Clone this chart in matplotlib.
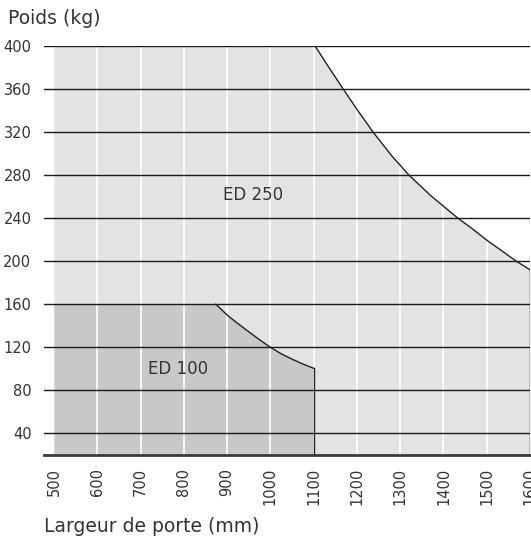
import matplotlib
matplotlib.use("Agg")
import matplotlib.pyplot as plt

plt.rcParams["font.family"] = ["DejaVu Sans"]

# ED 250 envelope (width mm, weight kg)
ed250_x = [500, 1103, 1135, 1168, 1200, 1237, 1280, 1320, 1370, 1400, 1433, 1470, 1500, 1535, 1568, 1600]
ed250_y = [400, 400, 380, 360, 341, 320, 298, 280, 261, 251, 240, 229, 219.5, 209.5, 200, 192]

# ED 100 envelope
ed100_x = [500, 874, 900, 925, 950, 975, 1000, 1025, 1050, 1075, 1100]
ed100_y = [160, 160, 150, 142, 134.5, 127, 120, 114, 109, 104.5, 100.5]

x_ticks = [500, 600, 700, 800, 900, 1000, 1100, 1200, 1300, 1400, 1500, 1600]
y_ticks = [40, 80, 120, 160, 200, 240, 280, 320, 360, 400]

txt = "#333333"
y_min = 20

fig = plt.figure(figsize=(5.31, 5.37), dpi=100)
ax = fig.add_axes([44 / 531, 1 - 455 / 537, 486 / 531, (455 - 45.7) / 537])

# shaded areas
ax.fill_between(ed250_x, ed250_y, y_min, color="#e3e3e3", lw=0, zorder=1)
ax.fill_between(ed100_x, ed100_y, y_min, color="#c8c8c8", lw=0, zorder=1.5)

# white vertical grid, black horizontal grid
for xv in x_ticks[1:-1]:
    ax.axvline(xv, color="white", lw=1.2, zorder=2)
for yv in y_ticks:
    ax.axhline(yv, color="#1a1a1a", lw=1.0, zorder=3)

# outlines
ax.plot(ed250_x[1:], ed250_y[1:], color="#222222", lw=1.0, zorder=4)
ax.plot([ed250_x[-1], ed250_x[-1]], [ed250_y[-1], y_min], color="#222222", lw=1.0, zorder=4)
ax.plot(ed100_x[1:], ed100_y[1:], color="#222222", lw=1.0, zorder=4)
ax.plot([ed100_x[-1], ed100_x[-1]], [ed100_y[-1], y_min], color="#222222", lw=1.0, zorder=4)

ax.text(961, 261, "ED 250", ha="center", va="center", fontsize=12, color=txt, zorder=5)
ax.text(787, 100, "ED 100", ha="center", va="center", fontsize=12, color=txt, zorder=5)

ax.set_xlim(477, 1600)
ax.set_ylim(y_min, 400)

for s in ["top", "left", "right"]:
    ax.spines[s].set_visible(False)
ax.spines["bottom"].set_color("#3a3a3a")
ax.spines["bottom"].set_linewidth(2)
ax.spines["bottom"].set_zorder(6)

ax.set_xticks(x_ticks)
ax.set_xticklabels([str(v) for v in x_ticks], rotation=90, fontsize=10.5, color=txt)
ax.set_yticks(y_ticks)
ax.set_yticklabels([str(v) for v in y_ticks], fontsize=10.5, color=txt)
ax.tick_params(axis="both", length=0)
ax.tick_params(axis="x", pad=9)
ax.tick_params(axis="y", pad=9)
for lab in ax.get_xticklabels():
    lab.set_va("top")

fig.text(8 / 531, 1 - 18 / 537, "Poids (kg)", fontsize=13.5, color=txt, va="center")
fig.text(44 / 531, 1 - 527 / 537, "Largeur de porte (mm)", fontsize=13.5, color=txt, va="center")

fig.savefig("out.png", dpi=100)
